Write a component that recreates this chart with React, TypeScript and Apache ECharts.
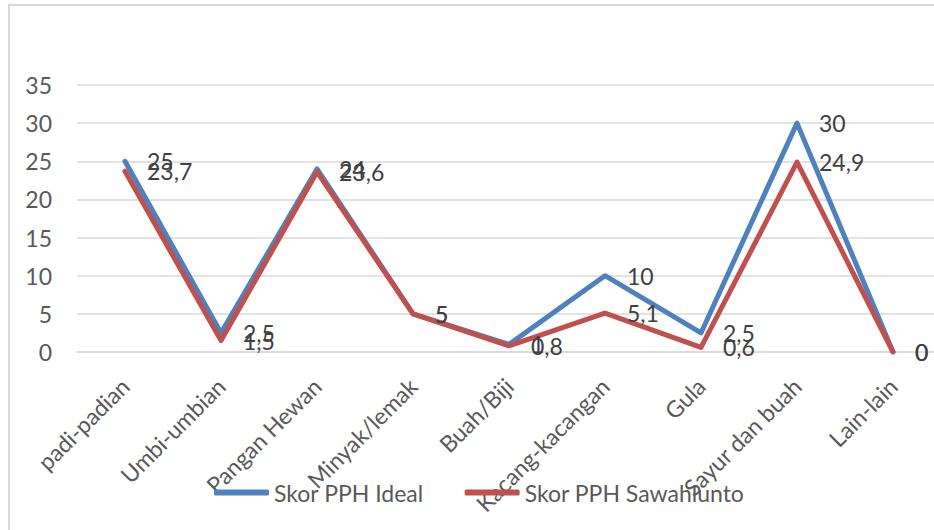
import React, { useEffect, useRef } from "react";
import * as echarts from "echarts";

const categories = [
  "padi-padian",
  "Umbi-umbian",
  "Pangan Hewan",
  "Minyak/lemak",
  "Buah/Biji",
  "Kacang-kacangan",
  "Gula",
  "Sayur dan buah",
  "Lain-lain",
];
const idealValues = [25, 2.5, 24, 5, 1, 10, 2.5, 30, 0];
const sawahluntoValues = [23.7, 1.5, 23.6, 5, 0.8, 5.1, 0.6, 24.9, 0];
const seriesNames = ["Skor PPH Ideal", "Skor PPH Sawahlunto"];
const yTicks = { min: 0, max: 35, interval: 5 };

const FONT = "Lato, 'Noto Sans', sans-serif";
const TEXT = "#595959";

export default function App() {
  const ref = useRef<HTMLDivElement>(null);
  useEffect(() => {
    document.body.style.margin = "0";
    document.body.style.overflow = "hidden";
    const chart = echarts.init(ref.current!, null, { renderer: "svg" });
    const fmt = (p: any) => String(p.value).replace(".", ",");
    const mkLabel = () => ({
      show: true,
      position: "right",
      distance: 21,
      color: "#404040",
      fontSize: 23,
      fontFamily: FONT,
      formatter: fmt,
    });
    chart.setOption({
      animation: false,
      backgroundColor: "#fff",
      textStyle: { fontFamily: FONT },
      graphic: [
        {
          type: "rect",
          shape: { x: 9, y: 5, width: 1000, height: 1000 },
          style: { fill: "none", stroke: "#d9d9d9", lineWidth: 2 },
          silent: true,
          z: -10,
        },
      ],
      grid: { left: 77, right: 0, top: 85, bottom: 178, containLabel: false },
      legend: {
        left: 209,
        top: 476,
        itemWidth: 55,
        itemHeight: 6,
        itemGap: 41,
        icon: "roundRect",
        textStyle: { color: TEXT, fontSize: 23, fontFamily: FONT },
        data: seriesNames,
      },
      xAxis: {
        type: "category",
        data: categories,
        boundaryGap: true,
        axisLine: { show: true, lineStyle: { color: "#d9d9d9", width: 1.5 } },
        axisTick: { show: false },
        axisLabel: {
          rotate: 45,
          interval: 0,
          margin: 30,
          color: TEXT,
          fontSize: 23,
          fontFamily: FONT,
        },
      },
      yAxis: {
        type: "value",
        min: yTicks.min,
        max: yTicks.max,
        interval: yTicks.interval,
        axisLine: { show: false },
        axisTick: { show: false },
        axisLabel: { margin: 25, color: TEXT, fontSize: 23, fontFamily: FONT },
        splitLine: { lineStyle: { color: "#d9d9d9", width: 1.5 } },
      },
      series: [
        {
          name: seriesNames[0],
          type: "line",
          data: idealValues,
          symbol: "circle",
          symbolSize: 2,
          showSymbol: true,
          lineStyle: { color: "#4f81bd", width: 5, cap: "round", join: "round" },
          itemStyle: { color: "#4f81bd" },
          label: mkLabel(),
          labelLayout: { hideOverlap: false },
        },
        {
          name: seriesNames[1],
          type: "line",
          data: sawahluntoValues,
          symbol: "circle",
          symbolSize: 2,
          showSymbol: true,
          lineStyle: { color: "#c0504d", width: 5, cap: "round", join: "round" },
          itemStyle: { color: "#c0504d" },
          label: mkLabel(),
          labelLayout: { hideOverlap: false },
        },
      ],
    });
    return () => chart.dispose();
  }, []);
  return (
    <div style={{ width: 934, height: 530, overflow: "hidden" }}>
      <div ref={ref} style={{ width: 941, height: 530 }} />
    </div>
  );
}
